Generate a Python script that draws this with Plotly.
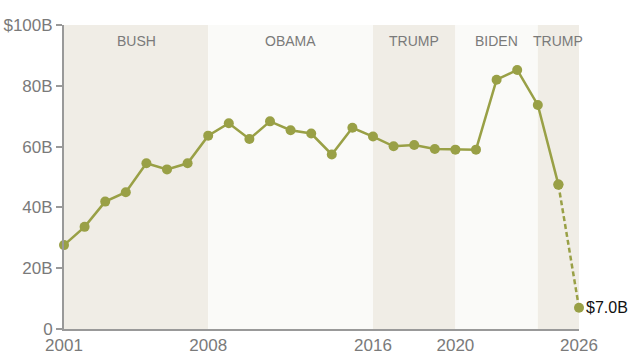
import plotly.graph_objects as go

years = list(range(2001, 2027))
values = [27.6, 33.6, 41.9, 45.0, 54.5, 52.5, 54.5, 63.6, 67.7, 62.5, 68.3, 65.4,
          64.3, 57.4, 66.2, 63.3, 60.1, 60.5, 59.2, 59.0, 59.0, 82.0, 85.2, 73.7,
          47.5, 7.0]

terms = ["BUSH", "OBAMA", "TRUMP", "BIDEN", "TRUMP"]
term_start = [2001, 2008, 2016, 2020, 2024]
term_end = [2008, 2016, 2020, 2024, 2026]
term_colors = ["#f0ede6", "#fafaf8", "#f0ede6", "#fafaf8", "#f0ede6"]

y_ticks = [0, 20, 40, 60, 80, 100]
y_labels = ["0", "20B", "40B", "60B", "80B", "$100B"]
x_ticks = [2001, 2008, 2016, 2020, 2026]

line_color = "#99a046"
gray = "#7a7a7a"
font_family = "Liberation Sans, Arial, sans-serif"

fig = go.Figure()

fig.add_trace(go.Scatter(
    x=years[:-1], y=values[:-1], mode="lines+markers",
    line=dict(color=line_color, width=2.5),
    marker=dict(color=line_color, size=10),
    showlegend=False, hoverinfo="x+y", cliponaxis=False,
))
fig.add_trace(go.Scatter(
    x=years[-2:], y=values[-2:], mode="lines+markers",
    line=dict(color=line_color, width=2.5, dash="5px,3px"),
    marker=dict(color=line_color, size=10),
    showlegend=False, hoverinfo="x+y", cliponaxis=False,
))

for name, s, e, c in zip(terms, term_start, term_end, term_colors):
    fig.add_shape(type="rect", xref="x", yref="y", x0=s, x1=e, y0=0, y1=100,
                  fillcolor=c, line=dict(width=0), layer="below")
    fig.add_annotation(x=(s + e) / 2, y=100, yref="y", xref="x", text=name,
                       showarrow=False, yanchor="top", yshift=-6,
                       font=dict(family=font_family, size=14, color=gray))

fig.add_annotation(x=years[-1], y=values[-1], text="$%.1fB" % values[-1],
                   showarrow=False, xanchor="left", xshift=5,
                   font=dict(family=font_family, size=16, color="#111111"))

fig.update_layout(
    width=640, height=363,
    margin=dict(l=64, r=61, t=25, b=34),
    plot_bgcolor="white", paper_bgcolor="white",
    font=dict(family=font_family, color=gray),
    xaxis=dict(range=[2001, 2026], tickvals=x_ticks, showgrid=False, zeroline=False,
               showline=True, linecolor="#999999", linewidth=2, ticks="",
               automargin=False, tickfont=dict(size=17, color=gray)),
    yaxis=dict(range=[0, 100], tickvals=y_ticks, ticktext=y_labels, showgrid=False,
               zeroline=False, showline=True, linecolor="#999999", linewidth=2,
               ticks="outside", ticklen=6, tickcolor="#999999", tickwidth=1.5,
               automargin=False, tickfont=dict(size=17, color=gray)),
)

fig.write_html("out.html")
